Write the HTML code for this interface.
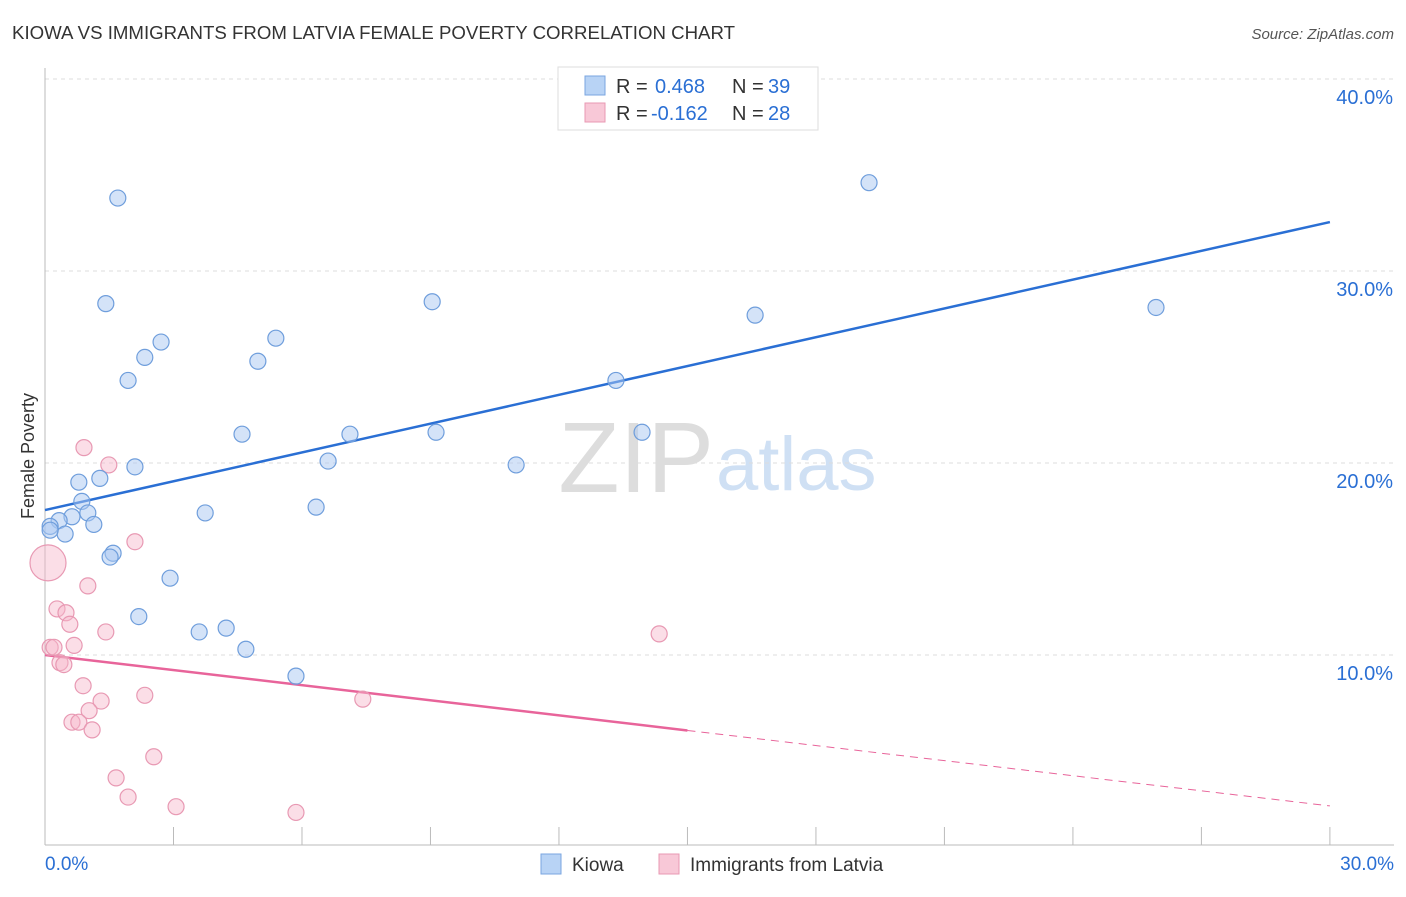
<!DOCTYPE html>
<html><head><meta charset="utf-8"><style>
body{margin:0;background:#fff;font-family:"Liberation Sans",sans-serif;}
svg text{font-family:"Liberation Sans",sans-serif;}
</style></head><body>
<svg id="c" width="1406" height="892" xmlns="http://www.w3.org/2000/svg">
<text x="12" y="39" font-size="18" fill="#333" textLength="723" lengthAdjust="spacingAndGlyphs">KIOWA VS IMMIGRANTS FROM LATVIA FEMALE POVERTY CORRELATION CHART</text>
<text x="1394" y="39" font-size="15" fill="#555" font-style="italic" text-anchor="end">Source: ZipAtlas.com</text>
<text x="34" y="456" font-size="18" fill="#333" text-anchor="middle" transform="rotate(-90 34 456)">Female Poverty</text>
<text x="714" y="492" font-size="100" fill="#ddd" text-anchor="end" font-family="Liberation Serif">ZIP</text>
<text x="716" y="490" font-size="76" fill="#cfe0f4">atlas</text>
<g id="grid"></g><g id="axes"></g><g id="trend"></g><g id="pts"></g>
<g>
<rect x="558" y="67" width="260" height="63" fill="#fff" stroke="#ddd"/>
<rect x="585" y="76" width="20" height="19" fill="#b8d3f5" stroke="#7aa6e0"/>
<text x="616" y="93" font-size="20" fill="#333">R =</text>
<text x="655" y="93" font-size="20" fill="#2a6fd4">0.468</text>
<text x="732" y="93" font-size="20" fill="#333">N =</text>
<text x="768" y="93" font-size="20" fill="#2a6fd4">39</text>
<rect x="585" y="103" width="20" height="19" fill="#f8c8d7" stroke="#e899b3"/>
<text x="616" y="120" font-size="20" fill="#333">R =</text>
<text x="651" y="120" font-size="20" fill="#2a6fd4">-0.162</text>
<text x="732" y="120" font-size="20" fill="#333">N =</text>
<text x="768" y="120" font-size="20" fill="#2a6fd4">28</text>
</g>
<g>
<rect x="541" y="854" width="20" height="20" fill="#b8d3f5" stroke="#7aa6e0"/>
<text x="572" y="871" font-size="19" fill="#333">Kiowa</text>
<rect x="659" y="854" width="20" height="20" fill="#f8c8d7" stroke="#e899b3"/>
<text x="690" y="871" font-size="19" fill="#333">Immigrants from Latvia</text>
</g>
</svg>
<script>
const blueX=[1.70,1.42,1.94,2.33,2.71,5.39,4.97,9.04,4.60,7.12,9.13,2.10,6.61,11.0,1.28,0.79,0.86,1.00,0.63,0.33,0.12,0.47,1.14,3.74,6.33,1.59,1.52,2.92,2.19,3.60,4.23,4.69,5.86,13.33,13.94,16.58,19.24,25.94,0.12];
const blueY=[33.8,28.3,24.3,25.5,26.3,26.5,25.3,28.4,21.5,21.5,21.6,19.8,20.1,19.9,19.2,19.0,18.0,17.4,17.2,17.0,16.7,16.3,16.8,17.4,17.7,15.3,15.1,14.0,12.0,11.2,11.4,10.3,8.9,24.3,21.6,27.7,34.6,28.1,16.5];
const pinkX=[0.07,0.91,1.49,2.10,1.00,0.28,0.49,0.58,1.42,0.68,0.12,0.21,0.35,0.44,0.89,2.33,1.31,1.03,0.63,0.79,1.10,7.42,2.54,1.66,1.94,3.06,5.86,14.34];
const pinkY=[14.8,20.8,19.9,15.9,13.6,12.4,12.2,11.6,11.2,10.5,10.4,10.4,9.6,9.5,8.4,7.9,7.6,7.1,6.5,6.5,6.1,7.7,4.7,3.6,2.6,2.1,1.8,11.1];
const pinkR=[18,8,8,8,8,8,8,8,8,8,8,8,8,8,8,8,8,8,8,8,8,8,8,8,8,8,8,8];
const yTicks=[10,20,30,40];
const xTicks=[0,3,6,9,12,15,18,21,24,27,30];
const blueTrend=[17.55,32.55];
const pinkTrend=[10.0,2.14];
const pinkSolidEnd=15;
const NS="http://www.w3.org/2000/svg";
const X=v=>45+v*42.83, Y=v=>847-v*19.2;
function mk(p,t,a){const e=document.createElementNS(NS,t);for(const k in a)e.setAttribute(k,a[k]);document.getElementById(p).appendChild(e);return e;}
yTicks.forEach(t=>{
 const l=mk('grid','line',{x1:45,x2:1394,y1:Y(t),y2:Y(t),stroke:'#ddd','stroke-dasharray':'4,4'});
 
 
 const tx=mk('grid','text',{x:1393,y:Y(t)+25,'font-size':20,fill:'#2a6fd4','text-anchor':'end'});
 tx.textContent=t.toFixed(1)+'%';
 
 
});
const ax=mk('axes','line',{x1:45,x2:1394,y1:845,y2:845,stroke:'#bbb'});


const ay=mk('axes','line',{x1:45,x2:45,y1:68,y2:845,stroke:'#bbb'});


xTicks.forEach(t=>{
 const l=mk('axes','line',{x1:X(t),x2:X(t),y1:827,y2:845,stroke:'#bbb'});
 
 
});
[[0,'start'],[30,'end']].forEach(([t,a])=>{
 const tx=mk('axes','text',{x:t?1394:45,y:870,'font-size':19,fill:'#2a6fd4','text-anchor':a});
 tx.textContent=t.toFixed(1)+'%';
 
 
});
const bt=mk('trend','line',{x1:X(0),y1:Y(blueTrend[0]),x2:X(30),y2:Y(blueTrend[1]),stroke:'#2a6fd4','stroke-width':2.5});


const pm=pinkTrend[0]+(pinkTrend[1]-pinkTrend[0])*pinkSolidEnd/30;
const pt=mk('trend','line',{x1:X(0),y1:Y(pinkTrend[0]),x2:X(pinkSolidEnd),y2:Y(pm),stroke:'#e8649a','stroke-width':2.5});


const pd=mk('trend','line',{x1:X(pinkSolidEnd),y1:Y(pm),x2:X(30),y2:Y(pinkTrend[1]),stroke:'#e8649a','stroke-width':1,'stroke-dasharray':'8,6'});


pinkX.forEach((v,i)=>{
 const c=mk('pts','circle',{cx:X(v),cy:Y(pinkY[i]),r:pinkR[i],fill:'rgba(246,182,202,0.45)',stroke:'#e899b3','stroke-width':1.2});
 
 
});
blueX.forEach((v,i)=>{
 const c=mk('pts','circle',{cx:X(v),cy:Y(blueY[i]),r:8,fill:'rgba(170,200,242,0.5)',stroke:'#6f9edc','stroke-width':1.2});
 
 
});
</script>
</body></html>
